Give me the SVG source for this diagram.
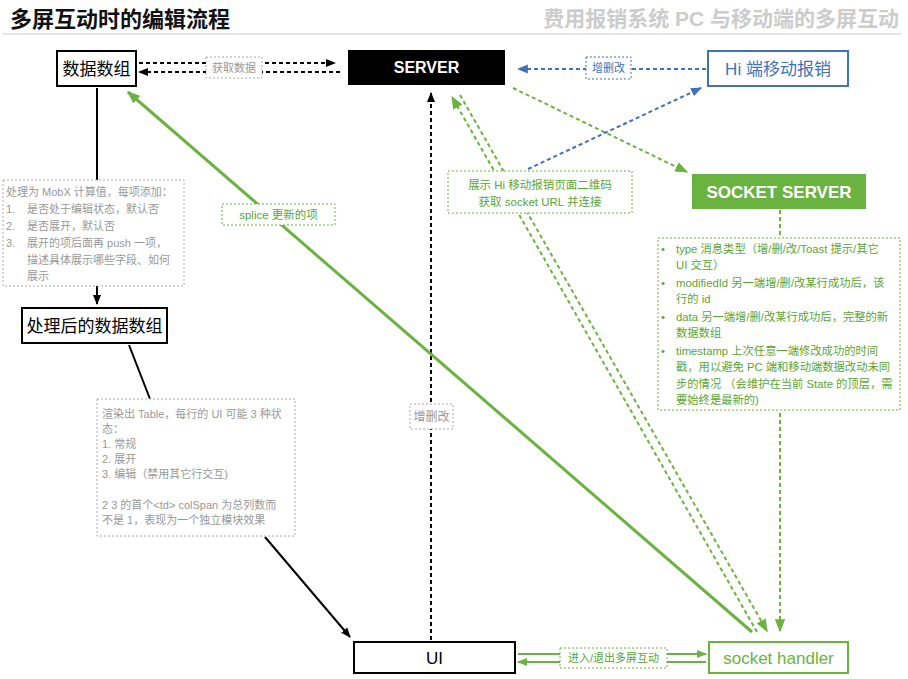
<svg xmlns="http://www.w3.org/2000/svg" width="908" height="679" viewBox="0 0 908 679">
<style>
text{font-family:"Liberation Sans","Noto Sans CJK SC",Arial,sans-serif}
.node{fill:#fff;stroke:#000;stroke-width:2}
.nt{font-size:17px;text-anchor:middle}
.small{font-size:11px}
.gbox{fill:#fff;stroke:#aaa;stroke-width:1;stroke-dasharray:2 2}
.grbox{fill:#fff;stroke:#6bb340;stroke-width:1;stroke-dasharray:2 2}
.blbox{fill:#fff;stroke:#3f72b8;stroke-width:1;stroke-dasharray:2 2}
.gt{fill:#999}
.grt{fill:#5aa634}
.dk{stroke:#000;stroke-width:2;fill:none;stroke-dasharray:4 3}
.sk{stroke:#000;stroke-width:2;fill:none}
.dg{stroke:#6bb340;stroke-width:2;fill:none;stroke-dasharray:4 3}
.sg{stroke:#6bb340;stroke-width:3;fill:none}
.sg2{stroke:#6bb340;stroke-width:2;fill:none}
.db{stroke:#3f72b8;stroke-width:2;fill:none;stroke-dasharray:4 3}
</style>
<defs>
<marker id="ak" viewBox="0 0 10 10" refX="9" refY="5" markerWidth="10" markerHeight="10" markerUnits="userSpaceOnUse" orient="auto"><path d="M0,1 L10,5 L0,9 z" fill="#000"/></marker>
<marker id="ag" viewBox="0 0 10 10" refX="9" refY="5" markerWidth="13" markerHeight="13" markerUnits="userSpaceOnUse" orient="auto"><path d="M0,1 L10,5 L0,9 z" fill="#6bb340"/></marker>
<marker id="ag2" viewBox="0 0 10 10" refX="9" refY="5" markerWidth="10" markerHeight="10" markerUnits="userSpaceOnUse" orient="auto"><path d="M0,1 L10,5 L0,9 z" fill="#6bb340"/></marker>
<marker id="ab" viewBox="0 0 10 10" refX="9" refY="5" markerWidth="11" markerHeight="11" markerUnits="userSpaceOnUse" orient="auto"><path d="M0,1 L10,5 L0,9 z" fill="#3f72b8"/></marker>
</defs>

<g id="header">
<text x="10" y="27" font-size="22" font-weight="bold" fill="#111">多屏互动时的编辑流程</text>
<text x="899" y="26" font-size="21" font-weight="bold" fill="#ccc" text-anchor="end">费用报销系统 PC 与移动端的多屏互动</text>
<line x1="3" y1="34" x2="901" y2="34" stroke="#ddd" stroke-width="1.5"/>
</g>

<g id="connectors">
<line class="dk" x1="139" y1="63" x2="335" y2="63" marker-end="url(#ak)"/>
<line class="dk" x1="340" y1="72" x2="139" y2="72" marker-end="url(#ak)"/>
<line class="db" x1="706" y1="69" x2="518" y2="69" marker-end="url(#ab)"/>
<line class="sk" x1="97" y1="88" x2="97" y2="180"/>
<line class="sk" x1="97" y1="286" x2="97" y2="304" marker-end="url(#ak)"/>
<line class="sk" x1="129" y1="345" x2="150" y2="399"/>
<line class="sk" x1="265" y1="537" x2="350" y2="637" marker-end="url(#ak)"/>
<line class="dk" x1="431" y1="640" x2="431" y2="93" marker-end="url(#ak)"/>
<line class="dg" x1="757" y1="632" x2="452" y2="97" marker-end="url(#ag)"/>
<line class="dg" x1="460" y1="95" x2="767" y2="631" marker-end="url(#ag)"/>
<line class="dg" x1="513" y1="88" x2="687" y2="172" marker-end="url(#ag)"/>
<line class="dg" x1="780" y1="210" x2="780" y2="631" marker-end="url(#ag)"/>
<line class="db" x1="528" y1="169" x2="701" y2="88" marker-end="url(#ab)"/>
<line class="sg" x1="752" y1="632" x2="128" y2="92" marker-end="url(#ag)"/>
<line class="sg2" x1="518" y1="654" x2="706" y2="654" marker-end="url(#ag2)"/>
<line class="sg2" x1="706" y1="662" x2="518" y2="662" marker-end="url(#ag2)"/>
</g>

<g id="label-fetch">
<rect class="gbox" x="206" y="57" width="56" height="21"/>
<text class="small gt" x="234" y="72" text-anchor="middle">获取数据</text>
</g>
<g id="label-hi-crud">
<rect class="blbox" x="586" y="57" width="45" height="22"/>
<text class="small" x="608.5" y="72" text-anchor="middle" fill="#3f72b8">增删改</text>
</g>
<g id="label-ui-crud">
<rect class="gbox" x="410" y="404" width="43" height="25"/>
<text x="431.5" y="421" font-size="12" text-anchor="middle" fill="#999">增删改</text>
</g>
<g id="label-splice">
<rect class="grbox" x="222" y="204" width="113" height="21"/>
<text x="278.5" y="219" font-size="11.5" text-anchor="middle" class="grt">splice 更新的项</text>
</g>
<g id="label-qr">
<rect class="grbox" x="448" y="171" width="184" height="42"/>
<text x="540" y="189" font-size="11.5" text-anchor="middle" class="grt">展示 Hi 移动报销页面二维码</text>
<text x="540" y="206" font-size="11.5" text-anchor="middle" class="grt">获取 socket URL 并连接</text>
</g>
<g id="label-toggle">
<rect class="grbox" x="560" y="648" width="107" height="20"/>
<text class="small grt" x="613.5" y="662" text-anchor="middle">进入/退出多屏互动</text>
</g>

<g id="node-data">
<rect class="node" x="57" y="51" width="79" height="35"/>
<text class="nt" x="96.5" y="75">数据数组</text>
</g>
<g id="node-server">
<rect x="348" y="50" width="157" height="35" fill="#000"/>
<text x="426.5" y="73" font-size="16" font-weight="bold" fill="#fff" text-anchor="middle">SERVER</text>
</g>
<g id="node-hi">
<rect x="708" y="51" width="140" height="35" fill="#fff" stroke="#3f72b8" stroke-width="2"/>
<text class="nt" x="778" y="75" fill="#3f72b8">Hi 端移动报销</text>
</g>
<g id="node-socket-server">
<rect x="692" y="174" width="174" height="35" fill="#6bb340"/>
<text x="779" y="198" font-size="17" font-weight="bold" fill="#fff" text-anchor="middle">SOCKET SERVER</text>
</g>
<g id="node-mobx-note">
<rect class="gbox" x="3" y="180" width="181" height="106"/>
<g class="small gt">
<text x="6" y="196">处理为 MobX 计算值，每项添加：</text>
<text x="6" y="213">1.</text><text x="27" y="213">是否处于编辑状态，默认否</text>
<text x="6" y="230">2.</text><text x="27" y="230">是否展开，默认否</text>
<text x="6" y="247">3.</text><text x="27" y="247">展开的项后面再 push 一项，</text>
<text x="27" y="264">描述具体展示哪些字段、如何</text>
<text x="27" y="280">展示</text>
</g>
</g>
<g id="node-processed">
<rect class="node" x="22" y="308" width="145" height="35"/>
<text class="nt" x="94.5" y="332">处理后的数据数组</text>
</g>
<g id="node-table-note">
<rect class="gbox" x="97" y="399" width="198" height="137"/>
<g class="small gt">
<text x="102" y="418">渲染出 Table，每行的 UI 可能 3 种状</text>
<text x="102" y="433">态：</text>
<text x="102" y="448">1.  常规</text>
<text x="102" y="463">2.  展开</text>
<text x="102" y="478">3.  编辑（禁用其它行交互)</text>
<text x="102" y="509">2 3 的首个&lt;td&gt; colSpan 为总列数而</text>
<text x="102" y="524">不是 1，表现为一个独立模块效果</text>
</g>
</g>
<g id="node-socket-note">
<rect class="grbox" x="658" y="238" width="242" height="172"/>
<g class="grt" font-size="11.3">
<text x="661" y="253">•</text><text x="676" y="253">type 消息类型（增/删/改/Toast 提示/其它</text>
<text x="676" y="269">UI 交互）</text>
<text x="661" y="287">•</text><text x="676" y="287">modifiedId 另一端增/删/改某行成功后，该</text>
<text x="676" y="303">行的 id</text>
<text x="661" y="321">•</text><text x="676" y="321">data 另一端增/删/改某行成功后，完整的新</text>
<text x="676" y="337">数据数组</text>
<text x="661" y="355">•</text><text x="676" y="355">timestamp 上次任意一端修改成功的时间</text>
<text x="676" y="371">戳，用以避免 PC 端和移动端数据改动未同</text>
<text x="676" y="388">步的情况 （会维护在当前 State 的顶层，需</text>
<text x="676" y="404">要始终是最新的)</text>
</g>
</g>
<g id="node-ui">
<rect class="node" x="354" y="642" width="161" height="31"/>
<text class="nt" x="434.5" y="664">UI</text>
</g>
<g id="node-socket-handler">
<rect x="709" y="642" width="139" height="31" fill="#fff" stroke="#6bb340" stroke-width="2"/>
<text class="nt" x="778.5" y="664" fill="#6bb340">socket handler</text>
</g>
</svg>
